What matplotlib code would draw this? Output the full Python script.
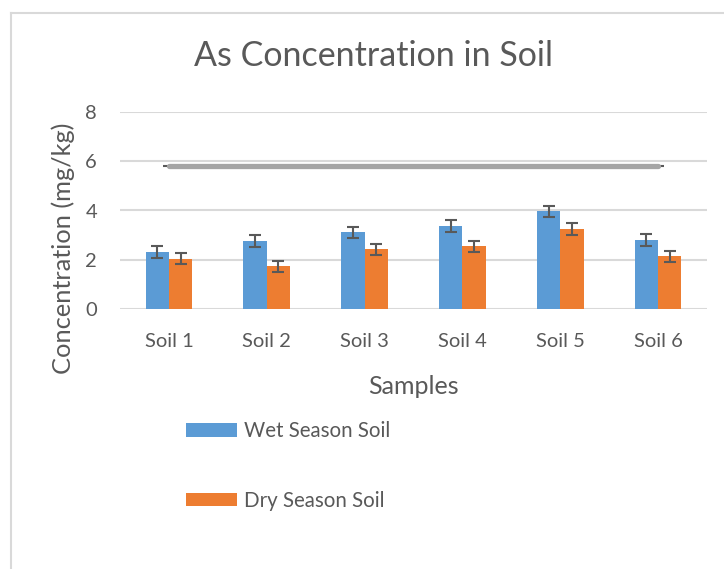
import matplotlib
matplotlib.use('Agg')
import matplotlib.pyplot as plt
from matplotlib.lines import Line2D
import numpy as np

# Data
samples = ['Soil 1', 'Soil 2', 'Soil 3', 'Soil 4', 'Soil 5', 'Soil 6']
wet = [2.30, 2.75, 3.11, 3.37, 3.96, 2.79]
dry = [2.04, 1.73, 2.42, 2.55, 3.25, 2.14]
wet_err = [0.24, 0.24, 0.24, 0.24, 0.24, 0.24]
dry_err = [0.23, 0.23, 0.23, 0.23, 0.23, 0.23]
limit = [5.8, 5.8, 5.8, 5.8, 5.8, 5.8]
yticks = [0, 2, 4, 6, 8]

text_color = '#595959'
plt.rcParams['font.family'] = ['Lato', 'DejaVu Sans']

W, H = 724, 569
fig = plt.figure(figsize=(W / 100, H / 100), dpi=100)

# plot area in pixels: x 120..707, y 112..309
ax = fig.add_axes([120 / W, 1 - 309 / H, 587 / W, 197 / H])

x = np.arange(len(samples))
bw = 0.238
ax.bar(x - bw / 2, wet, bw, color='#5B9BD5', label='Wet Season Soil', zorder=3)
ax.bar(x + bw / 2, dry, bw, color='#ED7D31', label='Dry Season Soil', zorder=3)
ax.errorbar(x - bw / 2, wet, yerr=wet_err, fmt='none', ecolor=text_color,
            elinewidth=1.5, capsize=4.2, capthick=1.5, zorder=4)
ax.errorbar(x + bw / 2, dry, yerr=dry_err, fmt='none', ecolor=text_color,
            elinewidth=1.5, capsize=4.2, capthick=1.5, zorder=4)

# limit line with small dark ends
ends = [0, len(samples) - 1]
ax.errorbar(ends, [limit[i] for i in ends], xerr=0.06, fmt='none',
            ecolor=text_color, elinewidth=1.5, zorder=4)
ax.plot(x, limit, color='#A5A5A5', linewidth=3.8, solid_capstyle='round', zorder=5)

ax.set_xlim(-0.5, len(samples) - 0.5)
ax.set_ylim(0, 8)
ax.set_yticks(yticks)
ax.set_xticks(x)
ax.set_xticklabels(samples)
ax.grid(axis='y', color='#D9D9D9', linewidth=1.5, zorder=0)
for s in ax.spines.values():
    s.set_visible(False)
ax.tick_params(axis='both', length=0, labelsize=14.5, colors=text_color)
ax.tick_params(axis='y', pad=16.5)
ax.tick_params(axis='x', pad=17)

fig.text(374 / W, 1 - 56 / H, 'As Concentration in Soil', ha='center', va='center',
         fontsize=24.5, color=text_color)
fig.text(413 / W, 1 - 387 / H, 'Samples', ha='center', va='center',
         fontsize=18, color=text_color)
fig.text(63 / W, 1 - 248 / H, 'Concentration (mg/kg)', ha='center', va='center',
         rotation=90, fontsize=18.3, color=text_color)

leg = ax.legend(loc='upper left', bbox_to_anchor=(186 / W, 1 - 421 / H),
                bbox_transform=fig.transFigure, frameon=False, fontsize=14.8,
                handlelength=2.5, handleheight=0.65, handletextpad=0.3,
                labelspacing=2.42, borderpad=0, borderaxespad=0)
for t in leg.get_texts():
    t.set_color(text_color)

# chart area border (left and top edges visible)
fig.add_artist(Line2D([11 / W, 11 / W], [0, 1 - 13 / H], color='#D9D9D9', linewidth=1.5))
fig.add_artist(Line2D([11 / W, 1], [1 - 13 / H, 1 - 13 / H], color='#D9D9D9', linewidth=1.5))

fig.savefig('out.png', dpi=100)
